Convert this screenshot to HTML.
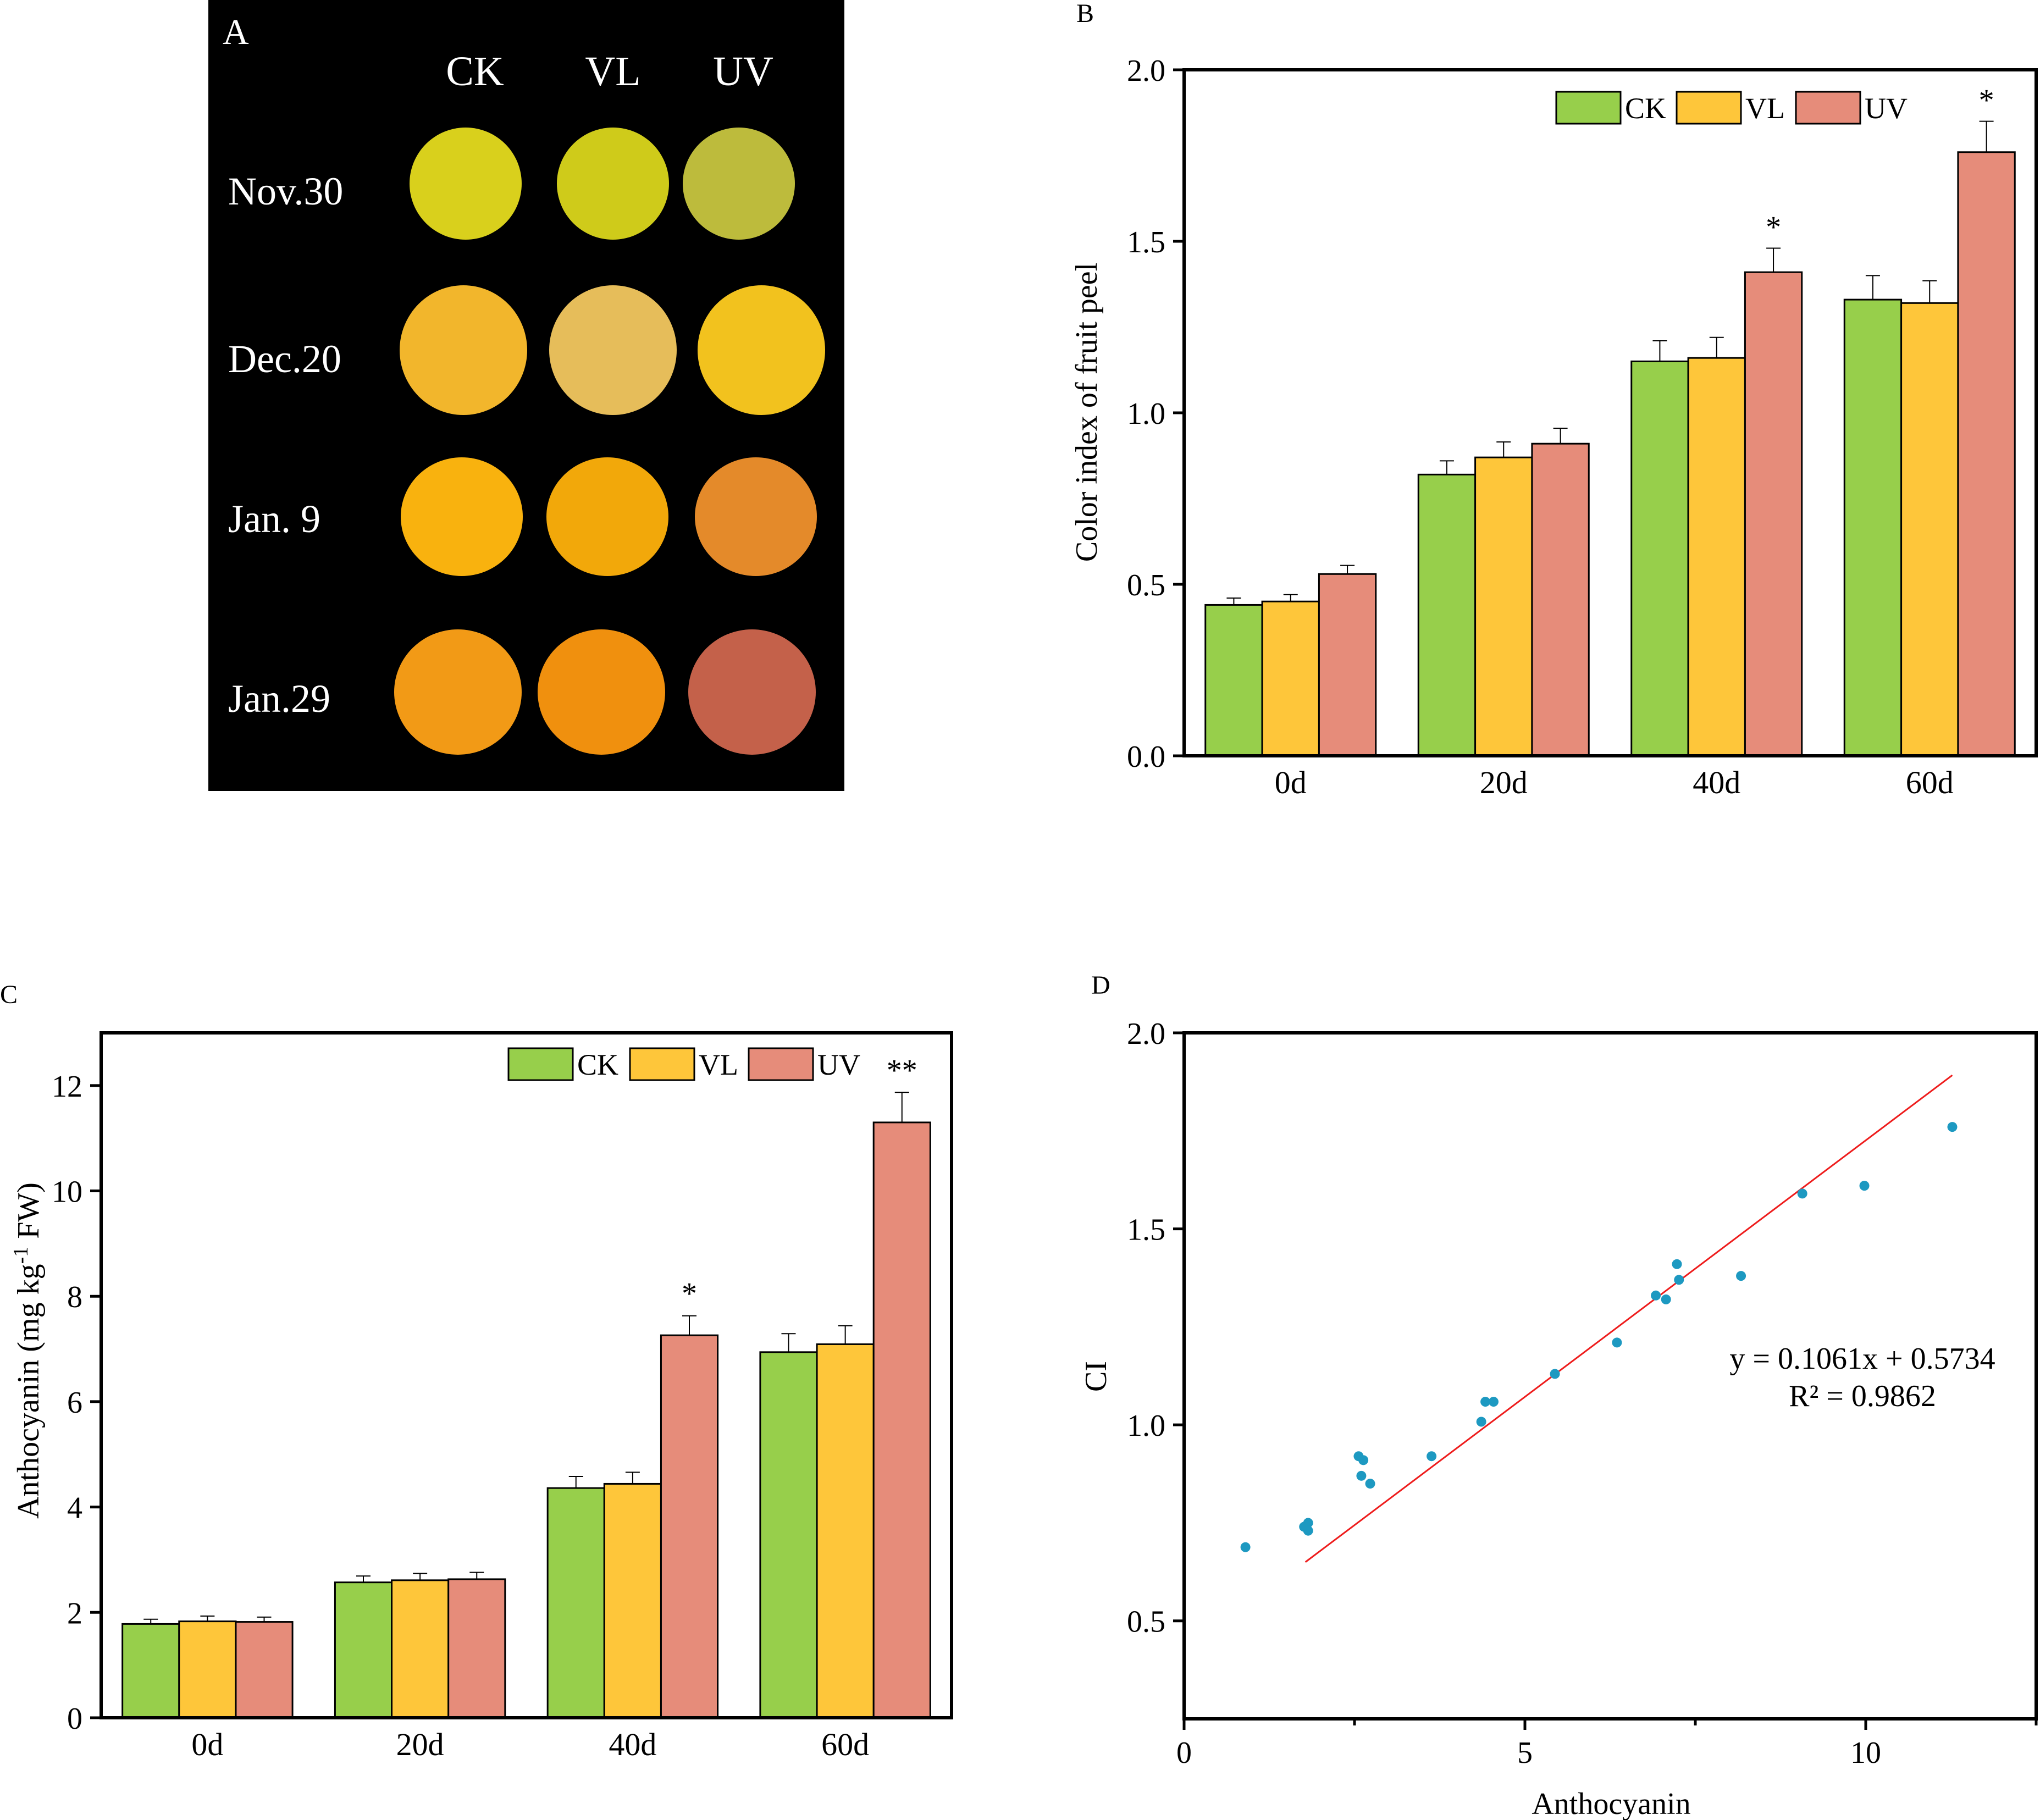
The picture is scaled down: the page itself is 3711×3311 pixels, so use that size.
<!DOCTYPE html>
<html><head><meta charset="utf-8"><style>
body{margin:0;background:#fff}
svg{display:block;font-family:"Liberation Serif",serif}
</style></head><body>
<svg id="fig" width="3711" height="3311" viewBox="0 0 3711 3311" xmlns="http://www.w3.org/2000/svg">
<g>
<rect x="379" y="0" width="1157" height="1439" fill="#000"/>
<text x="405" y="80" fill="#fff" font-size="66">A</text>
<text x="864" y="155" fill="#fff" font-size="76" text-anchor="middle">CK</text>
<text x="1115" y="155" fill="#fff" font-size="76" text-anchor="middle">VL</text>
<text x="1352" y="155" fill="#fff" font-size="76" text-anchor="middle">UV</text>
<text x="415" y="372" fill="#fff" font-size="72">Nov.30</text>
<text x="415" y="677" fill="#fff" font-size="72">Dec.20</text>
<text x="415" y="968" fill="#fff" font-size="72">Jan. 9</text>
<text x="415" y="1295" fill="#fff" font-size="72">Jan.29</text>
<g id="fruits"></g>
</g>
<g id="panelB"></g>
<g id="panelC"></g>
<g id="panelD"></g>
</svg>
<script>
const NS="http://www.w3.org/2000/svg";
const groups=["0d","20d","40d","60d"];
const seriesNames=["CK","VL","UV"];
const seriesColors=["#97cf4b","#fec63a","#e68c7a"];
const bCK=[0.44,0.82,1.15,1.33];
const bVL=[0.45,0.87,1.16,1.32];
const bUV=[0.53,0.91,1.41,1.76];
const bErrCK=[0.02,0.04,0.06,0.07];
const bErrVL=[0.02,0.045,0.06,0.065];
const bErrUV=[0.025,0.045,0.07,0.09];
const bTicks=[0,0.5,1.0,1.5,2.0];
const bTickLabels=["0.0","0.5","1.0","1.5","2.0"];
const bStars=["","","*","*"];
const cCK=[1.78,2.57,4.36,6.94];
const cVL=[1.83,2.61,4.44,7.09];
const cUV=[1.82,2.63,7.26,11.3];
const cErrCK=[0.09,0.12,0.22,0.35];
const cErrVL=[0.1,0.13,0.22,0.35];
const cErrUV=[0.09,0.13,0.37,0.57];
const cTicks=[0,2,4,6,8,10,12];
const cStars=["","","*","**"];
const dX=[0.90,1.76,1.82,1.82,2.56,2.63,2.60,2.73,3.63,4.36,4.42,4.54,5.44,6.35,6.92,7.07,7.23,7.26,8.17,9.07,9.98,11.27];
const dY=[0.688,0.74,0.75,0.73,0.92,0.91,0.87,0.85,0.92,1.008,1.059,1.059,1.13,1.21,1.33,1.32,1.41,1.37,1.38,1.59,1.61,1.76];
const fitX=[1.78,11.27];
const fitY=[0.65,1.892];
const dXTicks=[0,5,10];
const dYTicks=[0.5,1.0,1.5,2.0];

function el(parent,tag,attrs,text){const e=document.createElementNS(NS,tag);for(const k in attrs)e.setAttribute(k,attrs[k]);if(text!==undefined)e.textContent=text;parent.appendChild(e);return e;}

const fruitRows=[[334,102,102,[847,1115,1344],["#d9d01c","#cfcb1a","#bdbb3c"]],[637,116,118,[843,1115,1385],["#f2b62c","#e6bd5a","#f2c21e"]],[940,111,108,[840,1105,1375],["#f9b20e","#f2a80a","#e48a2a"]],[1259,116,114,[833,1094,1368],["#f29a16","#f0900e","#c4614a"]]];
const fg=document.getElementById("fruits");
fruitRows.forEach(r=>r[3].forEach((cx,i)=>{
 const f=el(fg,"ellipse",{cx:cx,cy:r[0],rx:r[1],ry:r[2],fill:r[4][i]});
 
 
}));

function barChart(g,cfg){
 const L=cfg.left,R=cfg.right,T=cfg.top,B=cfg.bottom;
 const ys=v=>B-(v-cfg.ymin)/(cfg.ymax-cfg.ymin)*(B-T);
 const cw=(R-L)/groups.length, bw=cw*0.8/3;
 const data=[cfg.ck,cfg.vl,cfg.uv], errs=[cfg.eck,cfg.evl,cfg.euv];
 groups.forEach((gname,gi)=>{
  const c=L+cw*(gi+0.5);
  data.forEach((s,si)=>{
   const x=c-1.5*bw+si*bw, y=ys(s[gi]), ye=ys(s[gi]+errs[si][gi]);
   const ln=el(g,"line",{x1:x+bw/2,x2:x+bw/2,y1:y,y2:ye,stroke:"#000","stroke-width":2});
   
   
   const cap=el(g,"line",{x1:x+bw/2-13,x2:x+bw/2+13,y1:ye,y2:ye,stroke:"#000","stroke-width":2});
   
   
   const r=el(g,"rect",{x:x,y:y,width:bw,height:B-y,fill:seriesColors[si],stroke:"#000","stroke-width":3});
   
   
  });
  if(cfg.stars[gi]){const s=el(g,"text",{x:c+bw,y:ys(cfg.uv[gi]+cfg.euv[gi])-cfg.starGap,"font-size":56,"text-anchor":"middle"},cfg.stars[gi]);
   
   }
  const t=el(g,"text",{x:c,y:B+68,"font-size":58,"text-anchor":"middle"},gname);
  
  
 });
 cfg.ticks.forEach((v,i)=>{
  const y=ys(v);
  const tk=el(g,"line",{x1:L-20,x2:L,y1:y,y2:y,stroke:"#000","stroke-width":5});
  
  
  const t=el(g,"text",{x:L-34,y:y+20,"font-size":56,"text-anchor":"end"},cfg.tickLabels[i]);
  
  
 });
 const fr=el(g,"rect",{x:L,y:T,width:R-L,height:B-T,fill:"none",stroke:"#000","stroke-width":6});
 
 
 cfg.legend.forEach((lx,i)=>{
  const b=el(g,"rect",{x:lx,y:cfg.legY,width:117,height:58,fill:seriesColors[i],stroke:"#000","stroke-width":3});
  
  
  const t=el(g,"text",{x:lx+125,y:cfg.legY+48,"font-size":54},seriesNames[i]);
  
  
 });
 const yt=el(g,"text",{x:0,y:0,"font-size":56,"text-anchor":"middle",transform:`translate(${cfg.ytX},${cfg.ytY}) rotate(-90)`},"");
 
 
 cfg.ytitle(yt);
 const pl=el(g,"text",{x:cfg.plX,y:cfg.plY,"font-size":48},cfg.label);
 
 
}

barChart(document.getElementById("panelB"),{left:2154,right:3704,top:127,bottom:1375,ymin:0,ymax:2,
 ck:bCK,vl:bVL,uv:bUV,eck:bErrCK,evl:bErrVL,euv:bErrUV,ticks:bTicks,tickLabels:bTickLabels,stars:bStars,starGap:20,
 legend:[2831,3050,3267],legY:167,ytX:1995,ytY:750,plX:1958,plY:40,label:"B",
 ytitle:t=>{t.textContent="Color index of fruit peel";}});

barChart(document.getElementById("panelC"),{left:184,right:1731,top:1879,bottom:3125,ymin:0,ymax:13,
 ck:cCK,vl:cVL,uv:cUV,eck:cErrCK,evl:cErrVL,euv:cErrUV,ticks:cTicks,tickLabels:cTicks.map(String),stars:cStars,starGap:22,
 legend:[925,1146,1362],legY:1907,ytX:70,ytY:2457,plX:0,plY:1825,label:"C",
 ytitle:t=>{t.appendChild(document.createTextNode("Anthocyanin (mg kg"));const s=document.createElementNS(NS,"tspan");s.setAttribute("dy","-20");s.setAttribute("font-size","38");s.textContent="-1";t.appendChild(s);const s2=document.createElementNS(NS,"tspan");s2.setAttribute("dy","20");s2.textContent=" FW)";t.appendChild(s2);}});

(function(){
 const g=document.getElementById("panelD");
 const L=2154,R=3704,T=1879,B=3127,xmin=0,xmax=12.5,ymin=0.25,ymax=2.0;
 const xs=v=>L+(v-xmin)/(xmax-xmin)*(R-L), ys=v=>B-(v-ymin)/(ymax-ymin)*(B-T);
 const ln=el(g,"line",{x1:xs(fitX[0]),y1:ys(fitY[0]),x2:xs(fitX[1]),y2:ys(fitY[1]),stroke:"#ee1c1c","stroke-width":3});
 
 
 dX.forEach((x,i)=>{const c=el(g,"circle",{cx:xs(x),cy:ys(dY[i]),r:9,fill:"#1d99c1"});
  
  });
 for(let v=0;v<=12.5;v+=2.5){const major=dXTicks.includes(v);
  const t=el(g,"line",{x1:xs(v),x2:xs(v),y1:B,y2:B+(major?20:12),stroke:"#000","stroke-width":5});
  
  }
 dXTicks.forEach(v=>{const t=el(g,"text",{x:xs(v),y:B+80,"font-size":56,"text-anchor":"middle"},String(v));
  
  });
 dYTicks.forEach(v=>{const t=el(g,"line",{x1:L-20,x2:L,y1:ys(v),y2:ys(v),stroke:"#000","stroke-width":5});
  
  
  const l=el(g,"text",{x:L-34,y:ys(v)+20,"font-size":56,"text-anchor":"end"},v.toFixed(1));
  
  });
 const fr=el(g,"rect",{x:L,y:T,width:R-L,height:B-T,fill:"none",stroke:"#000","stroke-width":6});
 
 
 const e1=el(g,"text",{x:3388,y:2490,"font-size":56,"text-anchor":"middle"},"y = 0.1061x + 0.5734");
 
 
 const e2=el(g,"text",{x:3388,y:2558,"font-size":56,"text-anchor":"middle"},"R² = 0.9862");
 
 
 const yt=el(g,"text",{x:0,y:0,"font-size":56,"text-anchor":"middle",transform:"translate(2012,2504) rotate(-90)"},"CI");
 
 
 const xt=el(g,"text",{x:2931,y:3300,"font-size":56,"text-anchor":"middle"},"Anthocyanin");
 
 
 const pl=el(g,"text",{x:1985,y:1808,"font-size":48},"D");
 
 
})();
</script>
</body></html>
